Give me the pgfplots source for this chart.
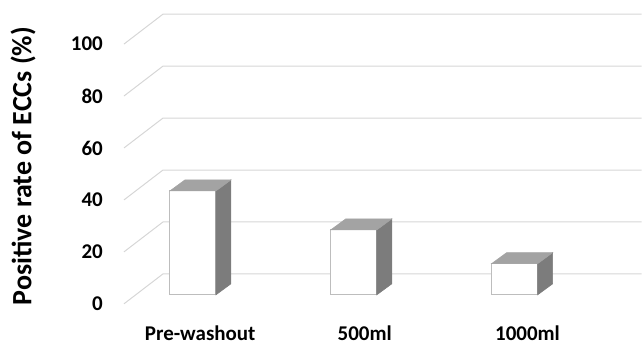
\documentclass[border=0pt]{standalone}
\usepackage{fontspec}
\setmainfont{Carlito}
\usepackage{pgfplots}
\pgfplotsset{compat=1.18}
\definecolor{gridg}{HTML}{D6D6D6}
\definecolor{edgeg}{HTML}{BDBDBD}
\definecolor{topg}{HTML}{A3A3A3}
\definecolor{sideg}{HTML}{7C7C7C}
\pgfplotstableread{
x v
0 40
1 25
2 12
}\bars
\begin{document}
\begin{tikzpicture}
\begin{axis}[
  x=161pt, y=2.6pt,
  xmin=-1.1988, xmax=2.7888,
  ymin=-16.154, ymax=116.92,
  axis line style={draw=none},
  major tick length=0pt,
  clip=false,
  ytick={0,20,40,60,80,100},
  xtick={0.045,1.068,2.08},
  xticklabels={Pre-washout,500ml,1000ml},
  /pgf/number format/assume math mode=true,
  tick label style={font=\fontsize{21}{25}\selectfont\bfseries, inner sep=0pt},
  xticklabel style={anchor=base, yshift=5pt},
  yticklabel style={anchor=east, xshift=103pt},
  ylabel={Positive rate of ECCs (\%)},
  every axis y label/.style={at={(rel axis cs:0.036,0.52)}, rotate=90, anchor=center, inner sep=0pt, font=\fontsize{28}{32}\selectfont\bfseries},
]
% walls: left diagonal + back horizontal gridlines
\addplot[gridg, line width=1pt] coordinates {(-0.4286,0) (-0.1863,11.5) (2.7888,11.5)};
\addplot[gridg, line width=1pt] coordinates {(-0.4286,20) (-0.1863,31.5) (2.7888,31.5)};
\addplot[gridg, line width=1pt] coordinates {(-0.4286,40) (-0.1863,51.5) (2.7888,51.5)};
\addplot[gridg, line width=1pt] coordinates {(-0.4286,60) (-0.1863,71.5) (2.7888,71.5)};
\addplot[gridg, line width=1pt] coordinates {(-0.4286,80) (-0.1863,91.5) (2.7888,91.5)};
\addplot[gridg, line width=1pt] coordinates {(-0.4286,100) (-0.1863,111.5) (2.7888,111.5)};
% bars: front faces
\addplot[ybar, bar width=46pt, fill=white, draw=edgeg, line width=1pt, yshift=9pt] table[x=x, y=v] {\bars};
% side faces
\addplot[fill=sideg, draw=sideg, line width=0.6pt, yshift=9pt] coordinates {(0.1429,0) (0.2361,4.23) (0.2361,44.23) (0.1429,40)} -- cycle;
\addplot[fill=sideg, draw=sideg, line width=0.6pt, yshift=9pt] coordinates {(1.1429,0) (1.2361,4.23) (1.2361,29.23) (1.1429,25)} -- cycle;
\addplot[fill=sideg, draw=sideg, line width=0.6pt, yshift=9pt] coordinates {(2.1429,0) (2.2361,4.23) (2.2361,16.23) (2.1429,12)} -- cycle;
% top faces
\addplot[fill=topg, draw=topg, line width=0.6pt, yshift=9pt] coordinates {(-0.1429,40) (0.1429,40) (0.2361,44.23) (-0.0497,44.23)} -- cycle;
\addplot[fill=topg, draw=topg, line width=0.6pt, yshift=9pt] coordinates {(0.8571,25) (1.1429,25) (1.2361,29.23) (0.9503,29.23)} -- cycle;
\addplot[fill=topg, draw=topg, line width=0.6pt, yshift=9pt] coordinates {(1.8571,12) (2.1429,12) (2.2361,16.23) (1.9503,16.23)} -- cycle;
\end{axis}
\end{tikzpicture}
\end{document}
